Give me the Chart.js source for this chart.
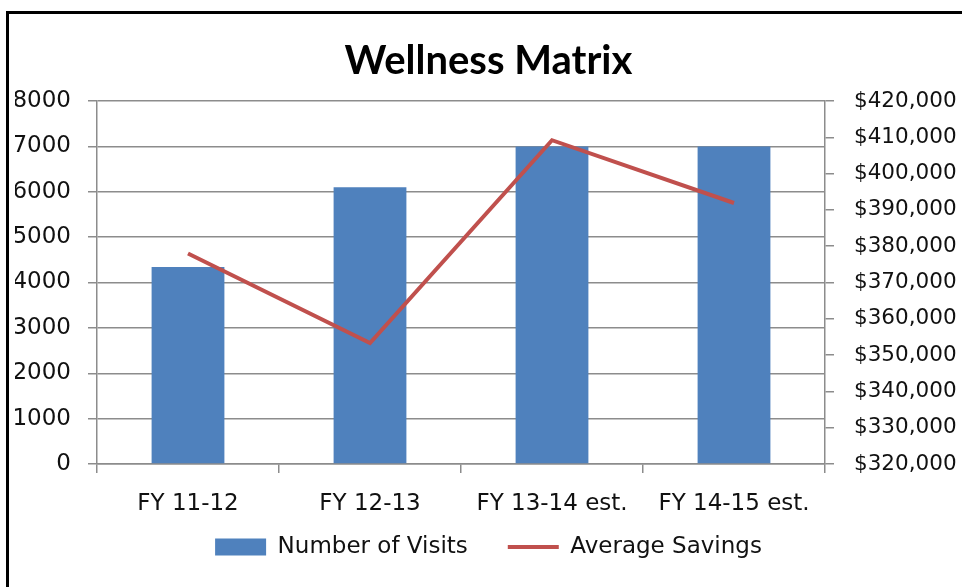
<!DOCTYPE html>
<html>
<head>
<meta charset="utf-8">
<script src="https://cdn.jsdelivr.net/npm/chart.js@4.4.1/dist/chart.umd.min.js"></script>
<style>
  html, body { margin: 0; padding: 0; background: #ffffff; }
  #wrap { position: relative; width: 962px; height: 587px; }
  canvas { display: block; }
</style>
</head>
<body>
<div id="wrap"><canvas id="c" width="962" height="587"></canvas></div>
<script>
const categories = ['FY 11-12', 'FY 12-13', 'FY 13-14 est.', 'FY 14-15 est.'];
const visits = [4340, 6100, 7000, 7000];
const savings = [378000, 353300, 409200, 391900];
const visitTicks = ['0', '1000', '2000', '3000', '4000', '5000', '6000', '7000', '8000'];
const savingsTicks = ['$320,000', '$330,000', '$340,000', '$350,000', '$360,000', '$370,000',
                      '$380,000', '$390,000', '$400,000', '$410,000', '$420,000'];
const titleText = 'Wellness Matrix';
const seriesNames = ['Number of Visits', 'Average Savings'];

const BAR = '#4F81BD';
const LINE = '#C0504D';
const GRID = '#8c8c8c';
const TEXT = '#111111';

Chart.defaults.font.family = "'DejaVu Sans', sans-serif";
Chart.defaults.color = TEXT;

const framePlugin = {
  id: 'frame',
  afterLayout(chart) {
    // let the category labels draw below the (narrow) x-axis box
    const xs = chart.scales.x;
    if (xs) { xs._computeLabelArea = () => undefined; }
  },
  beforeDraw(chart) {
    const ctx = chart.ctx;
    ctx.save();
    ctx.fillStyle = '#ffffff';
    ctx.fillRect(0, 0, chart.width, chart.height);
    ctx.strokeStyle = '#000000';
    ctx.lineWidth = 3;
    ctx.beginPath();
    ctx.moveTo(7.5, chart.height);
    ctx.lineTo(7.5, 12.5);
    ctx.lineTo(chart.width, 12.5);
    ctx.stroke();
    ctx.restore();
  }
};

new Chart(document.getElementById('c'), {
  data: {
    labels: categories,
    datasets: [
      {
        type: 'line',
        label: seriesNames[1],
        data: savings,
        yAxisID: 'y1',
        borderColor: LINE,
        backgroundColor: LINE,
        borderWidth: 4,
        pointRadius: 0,
        pointHoverRadius: 0,
        tension: 0,
        borderJoinStyle: 'miter',
        order: 1
      },
      {
        type: 'bar',
        label: seriesNames[0],
        data: visits,
        yAxisID: 'y',
        backgroundColor: BAR,
        borderWidth: 0,
        barPercentage: 0.4,
        categoryPercentage: 1.0,
        order: 2
      }
    ]
  },
  options: {
    responsive: false,
    animation: false,
    maintainAspectRatio: false,
    layout: { padding: { left: 15, right: 0, top: 0, bottom: 18.5 } },
    scales: {
      x: {
        offset: true,
        grid: { display: true, offset: true, drawOnChartArea: false, drawTicks: true, tickLength: 9, color: GRID, lineWidth: 1.5 },
        border: { display: true, color: GRID, width: 1.5 },
        ticks: { font: { size: 23 }, padding: 17, maxRotation: 0, autoSkip: false, color: TEXT },
        afterFit(s) { s.height = 31.5; }
      },
      y: {
        position: 'left',
        min: 0, max: 8000,
        ticks: { stepSize: 1000, font: { size: 23 }, padding: 17, color: TEXT,
                 callback: (v, i) => visitTicks[i] },
        grid: { color: GRID, lineWidth: 1.5, tickLength: 9, drawTicks: true },
        border: { display: true, color: GRID, width: 1.5 },
        afterFit(s) { s.width = 82; }
      },
      y1: {
        position: 'right',
        min: 320000, max: 420000,
        ticks: { stepSize: 10000, font: { size: 21.5 }, padding: 20, color: TEXT,
                 callback: (v, i) => savingsTicks[i] },
        grid: { drawOnChartArea: false, color: GRID, lineWidth: 1.5, tickLength: 9, drawTicks: true },
        border: { display: true, color: GRID, width: 1.5 },
        afterFit(s) { s.width = 137; }
      }
    },
    plugins: {
      title: {
        display: true,
        text: titleText,
        color: '#000000',
        font: { family: "'Lato', sans-serif", size: 40, weight: 'bold' },
        padding: { top: 37, bottom: 16 }
      },
      legend: {
        display: true,
        position: 'bottom',
        reverse: true,
        labels: {
          usePointStyle: true,
          pointStyleWidth: 51,
          boxWidth: 51,
          boxHeight: 17,
          padding: 40,
          color: TEXT,
          font: { size: 23 },
          generateLabels(chart) {
            const items = Chart.defaults.plugins.legend.labels.generateLabels(chart);
            items.forEach(it => {
              if (it.datasetIndex === 1) {
                it.pointStyle = 'rect';
                it.lineWidth = 0;
                it.fillStyle = BAR;
              } else {
                it.pointStyle = 'line';
                it.lineWidth = 4;
                it.strokeStyle = LINE;
              }
            });
            return items;
          }
        }
      },
      tooltip: { enabled: false }
    }
  },
  plugins: [framePlugin]
});
</script>
</body>
</html>
